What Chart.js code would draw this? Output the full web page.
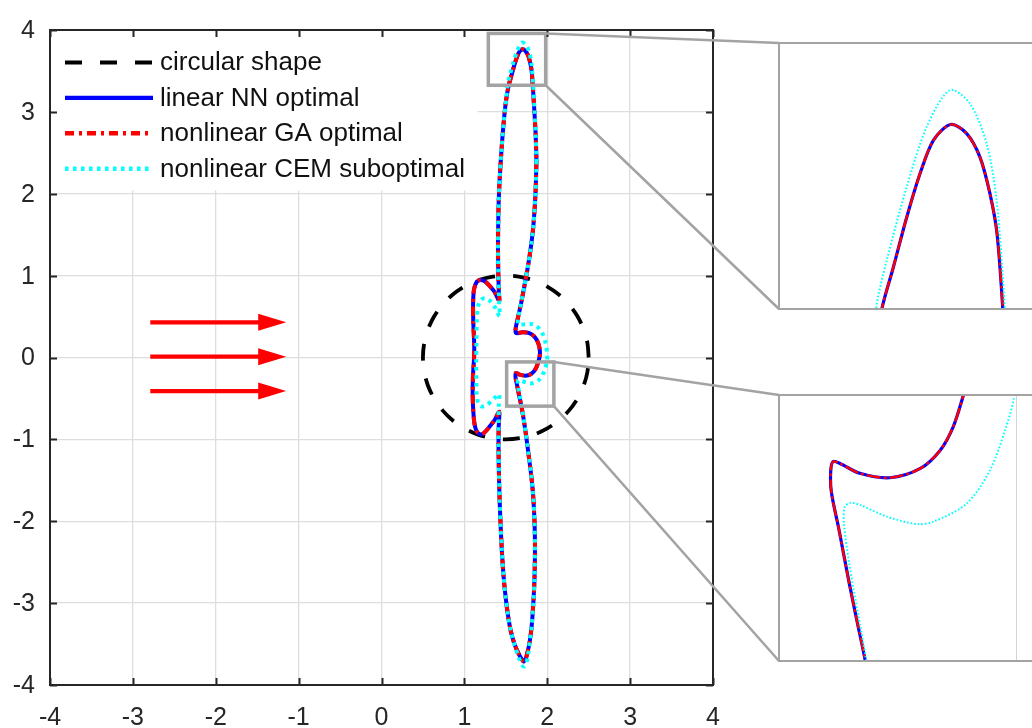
<!DOCTYPE html>
<html>
<head>
<meta charset="utf-8">
<script src="https://cdn.jsdelivr.net/npm/chart.js@4.4.1/dist/chart.umd.min.js"></script>
<style>
  html, body { margin: 0; padding: 0; background: #fff; overflow: hidden; }
  #wrap { position: relative; width: 1032px; height: 728px; overflow: hidden; background: #fff; }
  canvas { position: absolute; }
  #main { left: 0; top: 0; }
  #zoomTop { left: 778px; top: 42px; }
  #zoomMid { left: 778px; top: 394px; }
</style>
</head>
<body>
<div id="wrap">
  <canvas id="main" width="1032" height="728"></canvas>
  <canvas id="zoomTop" width="291" height="268"></canvas>
  <canvas id="zoomMid" width="278" height="268"></canvas>
</div>
<script>
// ---- data -------------------------------------------------------------
const tickValues = [-4, -3, -2, -1, 0, 1, 2, 3, 4];

const seriesLabels = ['circular shape', 'linear NN optimal', 'nonlinear GA optimal', 'nonlinear CEM suboptimal'];

// reference circle, radius 1 around (1.5, 0)
const circleX = [2.500, 2.485, 2.440, 2.366, 2.266, 2.143, 2.000, 1.842, 1.674, 1.500, 1.326, 1.158, 1.000,
  0.857, 0.734, 0.634, 0.560, 0.515, 0.500, 0.515, 0.560, 0.634, 0.734, 0.857, 1.000, 1.158, 1.326, 1.500,
  1.674, 1.842, 2.000, 2.143, 2.266, 2.366, 2.440, 2.485, 2.500];
const circleY = [0.000, 0.174, 0.342, 0.500, 0.643, 0.766, 0.866, 0.940, 0.985, 1.000, 0.985, 0.940, 0.866,
  0.766, 0.643, 0.500, 0.342, 0.174, 0.000, -0.174, -0.342, -0.500, -0.643, -0.766, -0.866, -0.940, -0.985, -1.000,
  -0.985, -0.940, -0.866, -0.766, -0.643, -0.500, -0.342, -0.174, 0.000];

// optimal shape (linear NN and nonlinear GA coincide)
const optimalX = [
  1.870, 1.858, 1.832, 1.800, 1.765, 1.722, 1.680, 1.645, 1.624, 1.617, 1.622, 1.640,
  1.700, 1.775, 1.845, 1.893, 1.912, 1.905, 1.891, 1.870, 1.843, 1.802, 1.739, 1.677, 1.636, 1.622, 1.617, 1.618, 1.634, 1.655, 1.672, 1.688,
  1.710, 1.744, 1.774, 1.802, 1.828, 1.846, 1.852, 1.846, 1.832, 1.812, 1.790, 1.762, 1.740, 1.718,
  1.695, 1.660, 1.605, 1.560, 1.525, 1.495, 1.472, 1.452, 1.438, 1.426, 1.418, 1.412, 1.414, 1.420,
  1.370, 1.300, 1.240, 1.195, 1.150, 1.122, 1.108, 1.100, 1.104, 1.118, 1.118, 1.108, 1.105, 1.116, 1.150, 1.197, 1.250, 1.305, 1.365, 1.420,
  1.416, 1.410, 1.406, 1.408, 1.414, 1.427, 1.449, 1.477, 1.503, 1.535, 1.563, 1.595, 1.627, 1.659, 1.700,
  1.738, 1.770, 1.794, 1.811, 1.825, 1.842, 1.860, 1.870];
const optimalY = [
  2.400, 2.000, 1.600, 1.330, 1.100, 0.860, 0.640, 0.480, 0.385, 0.330, 0.302, 0.297,
  0.308, 0.300, 0.255, 0.170, 0.070, -0.005, -0.054, -0.118, -0.166, -0.203, -0.222, -0.213, -0.193, -0.189, -0.206, -0.250, -0.328, -0.436, -0.517, -0.593,
  -0.720, -0.950, -1.180, -1.400, -1.660, -2.000, -2.300, -2.700, -3.000, -3.280, -3.460, -3.600, -3.680, -3.715,
  -3.690, -3.630, -3.500, -3.340, -3.140, -2.900, -2.660, -2.360, -2.060, -1.760, -1.460, -1.100, -0.850, -0.665,
  -0.755, -0.850, -0.918, -0.940, -0.905, -0.810, -0.660, -0.450, -0.220, 0.020, 0.180, 0.420, 0.650, 0.830, 0.925, 0.948, 0.928, 0.875, 0.800, 0.690,
  0.800, 1.000, 1.300, 1.600, 1.900, 2.200, 2.550, 2.900, 3.140, 3.324, 3.425, 3.544, 3.648, 3.727, 3.764,
  3.743, 3.687, 3.600, 3.505, 3.324, 3.050, 2.720, 2.400];

// CEM suboptimal shape
const suboptX = [
  1.870, 1.858, 1.832, 1.800, 1.765, 1.722, 1.684, 1.658, 1.646, 1.648, 1.665,
  1.720, 1.800, 1.875, 1.940, 1.982, 1.999, 1.996, 1.977, 1.946, 1.898, 1.829, 1.795, 1.733, 1.677, 1.657, 1.646, 1.644, 1.655, 1.673, 1.689,
  1.711, 1.744, 1.774, 1.802, 1.828, 1.846, 1.852, 1.846, 1.832, 1.812, 1.790, 1.768, 1.745, 1.718,
  1.690, 1.655, 1.605, 1.560, 1.525, 1.495, 1.472, 1.452, 1.438, 1.426, 1.418, 1.412, 1.412, 1.416, 1.420,
  1.380, 1.330, 1.270, 1.210, 1.170, 1.150, 1.145, 1.143, 1.146, 1.150, 1.165, 1.200, 1.250, 1.310, 1.370, 1.425,
  1.420, 1.416, 1.410, 1.406, 1.408, 1.414, 1.427, 1.449, 1.477, 1.503, 1.521, 1.547, 1.595, 1.643, 1.698,
  1.746, 1.786, 1.810, 1.830, 1.845, 1.860, 1.870];
const suboptY = [
  2.400, 2.000, 1.600, 1.330, 1.100, 0.860, 0.660, 0.530, 0.455, 0.415, 0.398,
  0.405, 0.410, 0.380, 0.300, 0.170, 0.040, -0.054, -0.125, -0.206, -0.274, -0.311, -0.316, -0.301, -0.277, -0.273, -0.281, -0.314, -0.396, -0.497, -0.585,
  -0.720, -0.950, -1.180, -1.400, -1.660, -2.000, -2.300, -2.700, -3.000, -3.280, -3.460, -3.640, -3.735, -3.775,
  -3.745, -3.660, -3.510, -3.340, -3.140, -2.900, -2.660, -2.360, -2.060, -1.760, -1.460, -1.100, -0.800, -0.580, -0.450,
  -0.480, -0.530, -0.578, -0.598, -0.565, -0.470, -0.300, -0.050, 0.200, 0.450, 0.620, 0.705, 0.725, 0.690, 0.610, 0.505,
  0.640, 0.800, 1.000, 1.300, 1.600, 1.900, 2.200, 2.550, 2.900, 3.140, 3.324, 3.441, 3.616, 3.759, 3.846,
  3.814, 3.719, 3.584, 3.324, 3.050, 2.720, 2.400];

// inflow arrows
const arrowY = [0.43, 0.01, -0.41];
const arrowFromX = -2.79;
const arrowToX = -1.15;

// magnified windows
const zoomTopX = [1.289, 1.981];
const zoomTopY = [3.325, 3.958];
const zoomMidX = [1.51, 2.08];
const zoomMidY = [-0.594, -0.054];
const zoomMidGridX = [2];

// ---- styling ----------------------------------------------------------
const FONT = '"Liberation Sans", Arial, Helvetica, sans-serif';
const INK = '#262626';
const FRAME_GRAY = '#a3a3a3';
const pts = (xs, ys) => xs.map((x, i) => ({ x, y: ys[i] }));

const mainStyle = {
  circle: { color: '#000000', width: 3.8, dash: [17, 18] },
  nn: { color: '#0000ff', width: 4, dash: [] },
  ga: { color: '#ff0000', width: 4, dash: [9, 5, 3, 5] },
  cem: { color: '#00ffff', width: 4, dash: [3.5, 4.5] }
};
const insetStyle = {
  nn: { color: '#0000ff', width: 3.2, dash: [] },
  ga: { color: '#ff0000', width: 2.4, dash: [14, 3, 3, 3] },
  cem: { color: '#00ffff', width: 2.0, dash: [1.6, 2] }
};

function lineSet(label, xs, ys, st, order) {
  return {
    label, data: pts(xs, ys), showLine: true, pointRadius: 0, pointHoverRadius: 0,
    borderColor: st.color, borderWidth: st.width, borderDash: st.dash,
    backgroundColor: st.color, fill: false, tension: 0.3, order
  };
}

// ---- inset charts -------------------------------------------------------
const insetFrame = {
  id: 'insetFrame',
  afterDraw(chart) {
    const { ctx, chartArea: a } = chart;
    ctx.save();
    ctx.setLineDash([]);
    ctx.strokeStyle = FRAME_GRAY;
    ctx.lineWidth = 2;
    ctx.strokeRect(a.left, a.top, a.right - a.left, a.bottom - a.top);
    ctx.restore();
  }
};

function makeInset(id, xr, yr, gridX) {
  return new Chart(document.getElementById(id), {
    type: 'scatter',
    data: {
      datasets: [
        lineSet(seriesLabels[1], optimalX, optimalY, insetStyle.nn, 3),
        lineSet(seriesLabels[2], optimalX, optimalY, insetStyle.ga, 2),
        lineSet(seriesLabels[3], suboptX, suboptY, insetStyle.cem, 1)
      ]
    },
    options: {
      responsive: false, animation: false, devicePixelRatio: 1,
      layout: { padding: 1 },
      plugins: { legend: { display: false }, tooltip: { enabled: false } },
      scales: {
        x: {
          type: 'linear', min: xr[0], max: xr[1], display: gridX.length > 0,
          afterBuildTicks: s => { s.ticks = gridX.map(v => ({ value: v })); },
          ticks: { display: false },
          grid: { color: '#d4d4d4', lineWidth: 1, drawTicks: false },
          border: { display: false },
          afterFit: s => { s.height = 0; }
        },
        y: { type: 'linear', min: yr[0], max: yr[1], display: false }
      }
    },
    plugins: [insetFrame]
  });
}

const insetTop = makeInset('zoomTop', zoomTopX, zoomTopY, []);
const insetMid = makeInset('zoomMid', zoomMidX, zoomMidY, zoomMidGridX);

// ---- main chart --------------------------------------------------------
const overlay = {
  id: 'overlay',
  afterDatasetsDraw(chart) {
    const { ctx, chartArea: a, scales: { x, y } } = chart;
    ctx.save();

    // inflow arrows
    ctx.setLineDash([]);
    ctx.fillStyle = '#ff0000';
    ctx.strokeStyle = '#ff0000';
    arrowY.forEach(v => {
      const py = y.getPixelForValue(v);
      const x0 = x.getPixelForValue(arrowFromX);
      const x1 = x.getPixelForValue(arrowToX);
      const headLen = 28, headHalf = 8.5;
      ctx.lineWidth = 4.2;
      ctx.beginPath();
      ctx.moveTo(x0, py);
      ctx.lineTo(x1 - headLen + 2, py);
      ctx.stroke();
      ctx.beginPath();
      ctx.moveTo(x1, py);
      ctx.lineTo(x1 - headLen, py - headHalf);
      ctx.lineTo(x1 - headLen, py + headHalf);
      ctx.closePath();
      ctx.fill();
    });

    // magnified-window outlines
    ctx.strokeStyle = FRAME_GRAY;
    ctx.lineWidth = 3.5;
    [[zoomTopX, zoomTopY], [zoomMidX, zoomMidY]].forEach(([xr, yr]) => {
      const l = x.getPixelForValue(xr[0]), r = x.getPixelForValue(xr[1]);
      const t = y.getPixelForValue(yr[1]), b = y.getPixelForValue(yr[0]);
      ctx.strokeRect(l, t, r - l, b - t);
    });

    // legend
    ctx.fillStyle = '#ffffff';
    ctx.fillRect(a.left + 1.5, a.top + 1.5, 426, 159);
    const rows = [0, 1, 2, 3];
    rows.forEach(row => {
      const ds = chart.data.datasets[row];
      const ly = a.top + 32.5 + row * 35.4;
      ctx.beginPath();
      ctx.setLineDash(ds.borderDash || []);
      ctx.lineWidth = ds.borderWidth + 0.4;
      ctx.strokeStyle = ds.borderColor;
      ctx.moveTo(a.left + 15, ly);
      ctx.lineTo(a.left + 103, ly);
      ctx.stroke();
      ctx.setLineDash([]);
      ctx.save();
      ctx.fillStyle = '#111111';
      ctx.font = '25px ' + FONT;
      ctx.textBaseline = 'middle';
      ctx.textAlign = 'left';
      ctx.translate(a.left + 110, ly + 1);
      ctx.scale(1.04, 1);
      ctx.fillText(ds.label, 0, 0);
      ctx.restore();
    });

    // axes box with inward ticks
    ctx.setLineDash([]);
    ctx.strokeStyle = INK;
    ctx.lineWidth = 2;
    ctx.strokeRect(a.left, a.top, a.right - a.left, a.bottom - a.top);
    const tl = 7;
    ctx.beginPath();
    tickValues.forEach(v => {
      const px = Math.round(x.getPixelForValue(v)) + 0.5;
      ctx.moveTo(px, a.bottom); ctx.lineTo(px, a.bottom - tl);
      ctx.moveTo(px, a.top); ctx.lineTo(px, a.top + tl);
      const py = Math.round(y.getPixelForValue(v)) + 0.5;
      ctx.moveTo(a.left, py); ctx.lineTo(a.left + tl, py);
      ctx.moveTo(a.right, py); ctx.lineTo(a.right - tl, py);
    });
    ctx.stroke();
    ctx.restore();
  },
  afterDraw(chart) {
    // connectors from the windows to the magnified panels
    const { ctx, scales: { x, y } } = chart;
    ctx.save();
    ctx.strokeStyle = FRAME_GRAY;
    ctx.lineWidth = 2.5;
    ctx.setLineDash([]);
    [[zoomTopX, zoomTopY, insetTop], [zoomMidX, zoomMidY, insetMid]].forEach(([xr, yr, ins]) => {
      const cv = ins.canvas;
      const ia = ins.chartArea;
      const ix = cv.offsetLeft + ia.left;
      const itop = cv.offsetTop + ia.top;
      const ibot = cv.offsetTop + ia.bottom;
      const r = x.getPixelForValue(xr[1]);
      const t = y.getPixelForValue(yr[1]);
      const b = y.getPixelForValue(yr[0]);
      ctx.beginPath();
      ctx.moveTo(r, t); ctx.lineTo(ix, itop);
      ctx.moveTo(r, b); ctx.lineTo(ix, ibot);
      ctx.stroke();
    });
    ctx.restore();
  }
};

const tickFont = { family: FONT, size: 25 };

new Chart(document.getElementById('main'), {
  type: 'scatter',
  data: {
    datasets: [
      lineSet(seriesLabels[0], circleX, circleY, mainStyle.circle, 4),
      lineSet(seriesLabels[1], optimalX, optimalY, mainStyle.nn, 3),
      lineSet(seriesLabels[2], optimalX, optimalY, mainStyle.ga, 2),
      lineSet(seriesLabels[3], suboptX, suboptY, mainStyle.cem, 1)
    ]
  },
  options: {
    responsive: false, animation: false, devicePixelRatio: 1,
    layout: { padding: { top: 18, right: 319, left: 0, bottom: 0 } },
    plugins: { legend: { display: false }, tooltip: { enabled: false } },
    scales: {
      x: {
        type: 'linear', min: -4, max: 4,
        afterBuildTicks: s => { s.ticks = tickValues.map(v => ({ value: v })); },
        ticks: { color: INK, font: tickFont, padding: 18, maxRotation: 0, autoSkip: false, callback: v => String(v) },
        grid: { color: '#dedede', lineWidth: 1.3, drawTicks: false },
        border: { display: false },
        afterFit: s => { s.height = 43; }
      },
      y: {
        type: 'linear', min: -4, max: 4,
        afterBuildTicks: s => { s.ticks = tickValues.map(v => ({ value: v })); },
        ticks: { color: INK, font: tickFont, padding: 15, labelOffset: 1, autoSkip: false, callback: v => String(v) },
        grid: { color: '#dedede', lineWidth: 1.3, drawTicks: false },
        border: { display: false },
        afterFit: s => { s.width = 50; }
      }
    }
  },
  plugins: [overlay]
});
</script>
</body>
</html>
